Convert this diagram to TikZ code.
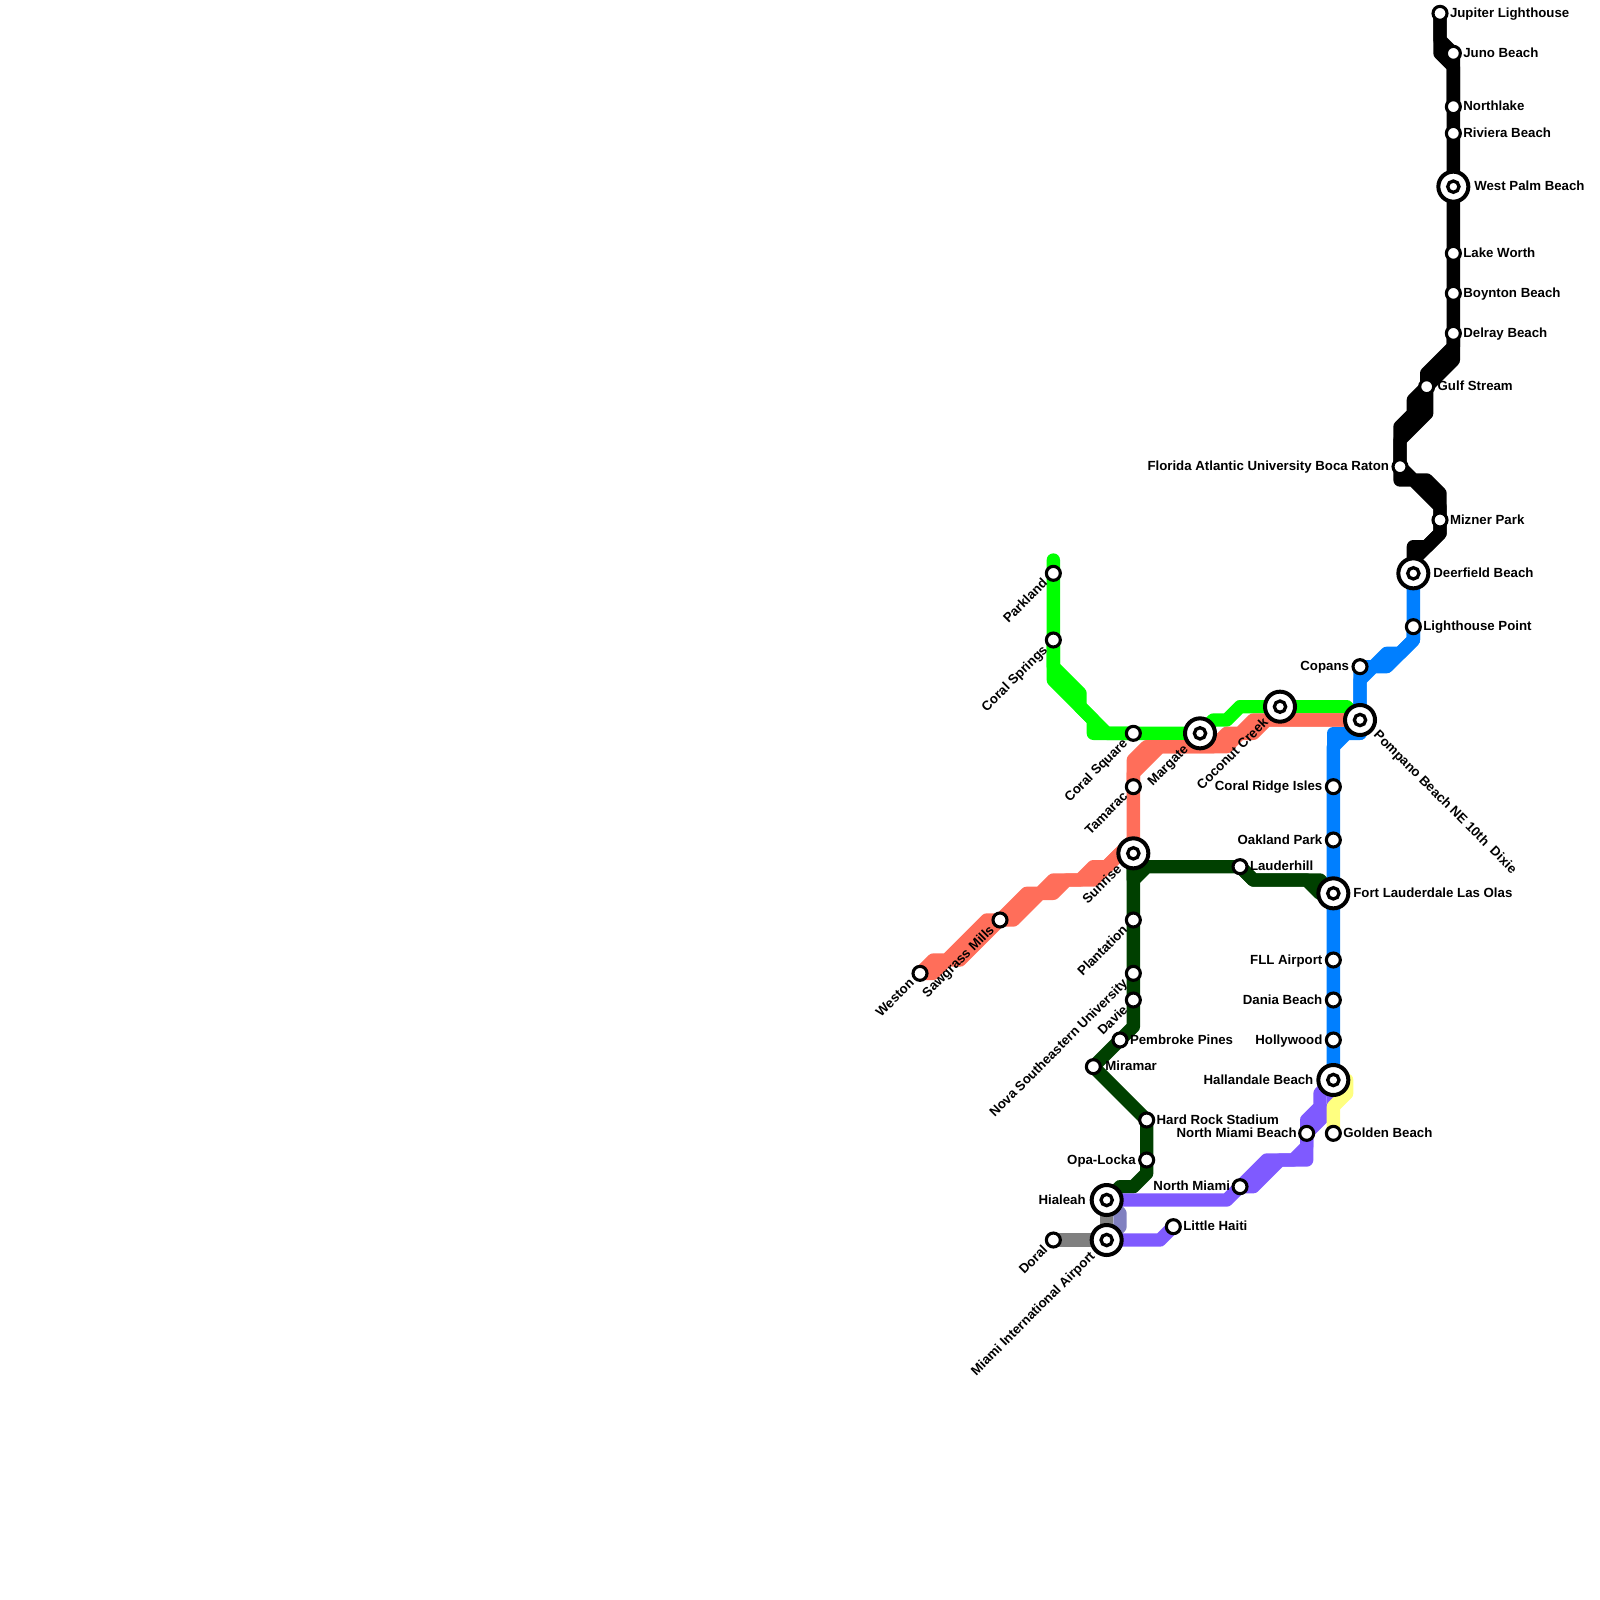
\documentclass[tikz,border=0pt]{standalone}
\usepackage{fontspec}
\setmainfont{Liberation Sans}
\usepackage{xcolor}
\usetikzlibrary{backgrounds}
\definecolor{limeline}{HTML}{00FF00}
\definecolor{salmonline}{HTML}{FF6E5A}
\definecolor{darkline}{HTML}{004000}
\definecolor{blueline}{HTML}{007FFF}
\definecolor{purpleline}{HTML}{7F5AFF}
\definecolor{yellowline}{HTML}{FFFF80}
\definecolor{grayline}{HTML}{808080}
\definecolor{slateline}{HTML}{8080C0}

\begin{document}
\begin{tikzpicture}[
        x=13.333pt, y=-13.333pt,
        stn/.style={circle, draw=black, fill=white, line width=3.1pt, minimum size=14pt, inner sep=0pt},
        hub/.style={circle, draw=black, fill=white, line width=4pt, minimum size=30pt, inner sep=0pt,
            path picture={\draw[line width=3.3pt, fill=white] (path picture bounding box.center) circle (5.65pt);}},
        tag/.style={font=\fontsize{13.25}{15}\selectfont\bfseries, inner sep=0pt, outer sep=0pt},
        tagr/.style={tag, anchor=mid west, xshift=#1, yshift=-1.5pt},
        tagr/.default=10pt,
        tagl/.style={tag, anchor=mid east, xshift=-#1, yshift=-1.5pt},
        tagl/.default=11pt,
        tagsw/.style={tag, anchor=mid east, xshift=-#1+1pt, yshift=-#1-1pt, rotate=45},
        tagsw/.default=8pt,
        tagse/.style={tag, anchor=mid west, xshift=#1+1pt, yshift=-#1, rotate=-45},
        metro/.style={line width=13.333pt, line cap=round, line join=round}
    ]
    \useasboundingbox (0,0) rectangle (120,120);

    % Nodes
    \node[stn] (jupiter) at (108,1) {};
    \node[stn] (juno) at (109,4) {};
    \node[stn] (northlake) at (109,8) {};
    \node[stn] (riviera) at (109,10) {};
    \node[hub] (westpalm) at (109,14) {};
    \node[stn] (lakeworth) at (109,19) {};
    \node[stn] (boynton) at (109,22) {};
    \node[stn] (delray) at (109,25) {};
    \node[stn] (gulf) at (107,29) {};
    \node[stn] (fau) at (105,35) {};
    \node[stn] (mizner) at (108,39) {};
    \node[hub] (deerfield) at (106,43) {};
    \node[stn] (lighthouse) at (106,47) {};
    \node[stn] (copans) at (102,50) {};
    \node[hub] (pompano) at (102,54) {};
    \node[stn] (coralridge) at (100,59) {};
    \node[stn] (oakland) at (100,63) {};
    \node[hub] (fortl) at (100,67) {};
    \node[stn] (fll) at (100,72) {};
    \node[stn] (dania) at (100,75) {};
    \node[stn] (hollywood) at (100,78) {};
    \node[hub] (hallandale) at (100,81) {};
    \node[stn] (golden) at (100,85) {};
    \node[stn] (nmb) at (98,85) {};
    \node[stn] (nmiami) at (93,89) {};
    \node[stn] (haiti) at (88,92) {};
    \node[hub] (hialeah) at (83,90) {};
    \node[hub] (mia) at (83,93) {};
    \node[stn] (doral) at (79,93) {};
    \node[stn] (opa) at (86,87) {};
    \node[stn] (hardrock) at (86,84) {};
    \node[stn] (miramar) at (82,80) {};
    \node[stn] (pembroke) at (84,78) {};
    \node[stn] (davie) at (85,75) {};
    \node[stn] (nova) at (85,73) {};
    \node[stn] (plantation) at (85,69) {};
    \node[hub] (sunrise) at (85,64) {};
    \node[stn] (lauderhill) at (93,65) {};
    \node[stn] (tamarac) at (85,59) {};
    \node[stn] (coralsq) at (85,55) {};
    \node[hub] (margate) at (90,55) {};
    \node[hub] (coconut) at (96,53) {};
    \node[stn] (parkland) at (79,43) {};
    \node[stn] (coralspr) at (79,48) {};
    \node[stn] (sawgrass) at (75,69) {};
    \node[stn] (weston) at (69,73) {};
    \coordinate (parklandend) at (79,42);

    % Labels
    \node[tagr] (jupitertag) at (jupiter) {Jupiter Lighthouse};
    \node[tagr] (junotag) at (juno) {Juno Beach};
    \node[tagr] (northlaketag) at (northlake) {Northlake};
    \node[tagr] (rivieratag) at (riviera) {Riviera Beach};
    \node[tagr=21pt] (westpalmtag) at (westpalm) {West Palm Beach};
    \node[tagr] (lakeworthtag) at (lakeworth) {Lake Worth};
    \node[tagr] (boyntontag) at (boynton) {Boynton Beach};
    \node[tagr] (delraytag) at (delray) {Delray Beach};
    \node[tagr=11pt] (gulftag) at (gulf) {Gulf Stream};
    \node[tagl] (fautag) at (fau) {Florida Atlantic University Boca Raton};
    \node[tagr] (miznertag) at (mizner) {Mizner Park};
    \node[tagr=20pt] (deerfieldtag) at (deerfield) {Deerfield Beach};
    \node[tagr] (lighthousetag) at (lighthouse) {Lighthouse Point};
    \node[tagl] (copanstag) at (copans) {Copans};
    \node[tagse=14pt] (pompanotag) at (pompano) {Pompano Beach NE 10th\ \ Dixie};
    \node[tagl] (coralridgetag) at (coralridge) {Coral Ridge Isles};
    \node[tagl] (oaklandtag) at (oakland) {Oakland Park};
    \node[tagr=20pt] (fortltag) at (fortl) {Fort Lauderdale Las Olas};
    \node[tagl] (flltag) at (fll) {FLL Airport};
    \node[tagl] (daniatag) at (dania) {Dania Beach};
    \node[tagl] (hollywoodtag) at (hollywood) {Hollywood};
    \node[tagl=20pt] (hallandaletag) at (hallandale) {Hallandale Beach};
    \node[tagr] (goldentag) at (golden) {Golden Beach};
    \node[tagl=10pt] (nmbtag) at (nmb) {North Miami Beach};
    \node[tagl=10pt] (nmiamitag) at (nmiami) {North Miami};
    \node[tagr] (haititag) at (haiti) {Little Haiti};
    \node[tagl=21pt] (hialeahtag) at (hialeah) {Hialeah};
    \node[tagsw=14pt] (miatag) at (mia) {Miami International Airport};
    \node[tagsw] (doraltag) at (doral) {Doral};
    \node[tagl] (opatag) at (opa) {Opa-Locka};
    \node[tagr] (hardrocktag) at (hardrock) {Hard Rock Stadium};
    \node[tagr=12pt] (miramartag) at (miramar) {Miramar};
    \node[tagr] (pembroketag) at (pembroke) {Pembroke Pines};
    \node[tagsw] (davietag) at (davie) {Davie};
    \node[tagsw] (novatag) at (nova) {Nova Southeastern University};
    \node[tagsw] (plantationtag) at (plantation) {Plantation};
    \node[tagsw=14pt] (sunrisetag) at (sunrise) {Sunrise};
    \node[tagr] (lauderhilltag) at (lauderhill) {Lauderhill};
    \node[tagsw] (tamaractag) at (tamarac) {Tamarac};
    \node[tagsw] (coralsqtag) at (coralsq) {Coral Square};
    \node[tagsw=14pt] (margatetag) at (margate) {Margate};
    \node[tagsw=14pt] (coconuttag) at (coconut) {Coconut Creek};
    \node[tagsw] (parklandtag) at (parkland) {Parkland};
    \node[tagsw] (coralsprtag) at (coralspr) {Coral Springs};
    \node[tagsw] (sawgrasstag) at (sawgrass) {Sawgrass Mills};
    \node[tagsw] (westontag) at (weston) {Weston};

    % Links
    \begin{scope}[on background layer]
    \draw[metro, limeline] (parklandend) -- (parkland.center) -- (coralspr.center) -- (79,50) -- (81,52) -- (81,53) -- (83,55) -- (coralsq.center);
    \draw[metro, limeline] (coralspr.center) -- (79,51) -- (82,54) -- (82,55) -- (coralsq.center) -- (margate.center) -- (91,54) -- (92,54) -- (93,53) -- (coconut.center) -- (101,53) -- (pompano.center);

    \draw[metro, salmonline] (weston.center) -- (70,72) -- (71,72) -- (74,69) -- (sawgrass.center) -- (77,67) -- (78,67) -- (79,66) -- (81,66) -- (82,65) -- (83,65) -- (85,63) -- (sunrise.center);
    \draw[metro, salmonline] (weston.center) -- (70,73) -- (71,72) -- (72,72) -- (sawgrass.center) -- (76,69) -- (78,67) -- (79,67) -- (80,66) -- (82,66) -- (84,64) -- (sunrise.center);
    \draw[metro, salmonline] (sunrise.center) -- (tamarac.center) -- (85,58) -- (87,56) -- (92,56) -- (93,55) -- (94,55) -- (95,54) -- (pompano.center);
    \draw[metro, salmonline] (tamarac.center) -- (85,57) -- (86,56) -- (91,56) -- (92,55) -- (93,55) -- (94,54) -- (pompano.center);

    \draw[metro, darkline] (sunrise.center) -- (plantation.center) -- (nova.center) -- (davie.center) -- (85,77) -- (pembroke.center) -- (miramar.center) -- (hardrock.center) -- (opa.center) -- (86,88) -- (85,89) -- (84,89) -- (hialeah.center);
    \draw[metro, darkline] (sunrise.center) -- (85,66) -- (86,65) -- (lauderhill.center) -- (94,66) -- (98,66) -- (99,67) -- (fortl.center);
    \draw[metro, darkline] (lauderhill.center) -- (94,66) -- (99,66) -- (fortl.center);

    \draw[metro, blueline] (deerfield.center) -- (lighthouse.center) -- (106,48) -- (105,49) -- (104,49) -- (103,50) -- (copans.center) -- (pompano.center);
    \draw[metro, blueline] (lighthouse.center) -- (106,48) -- (104,50) -- (103,50) -- (102,51) -- (pompano.center);
    \draw[metro, blueline] (pompano.center) -- (102,55) -- (101,55) -- (100,56) -- (coralridge.center) -- (oakland.center) -- (fortl.center) -- (fll.center) -- (dania.center) -- (hollywood.center) -- (hallandale.center);
    \draw[metro, blueline] (pompano.center) -- (102,55) -- (100,55) -- (coralridge.center);

    \draw[metro, purpleline] (hallandale.center) -- (99,82) -- (99,83) -- (98,84) -- (nmb.center) -- (98,86) -- (97,87) -- (95,87) -- (nmiami.center) -- (92,90) -- (hialeah.center);
    \draw[metro, purpleline] (hallandale.center) -- (100,83) -- (nmb.center) -- (98,87) -- (96,87) -- (94,89) -- (nmiami.center);
    \draw[metro, purpleline] (mia.center) -- (87,93) -- (haiti.center);

    \draw[metro, yellowline] (hallandale.center) -- (101,81) -- (101,82) -- (100,83) -- (golden.center);

    \draw[metro, grayline] (doral.center) -- (mia.center) -- (hialeah.center);
    \draw[metro, slateline] (hialeah.center) -- (84,91) -- (84,92) -- (mia.center);

    \draw[metro, black] (jupiter.center) -- (108,3) -- (juno.center) -- (northlake.center) -- (riviera.center) -- (westpalm.center) -- (lakeworth.center) -- (boynton.center) -- (delray.center) -- (109,26) -- (107,28) -- (gulf.center) -- (106,30) -- (106,31) -- (105,32) -- (fau.center);
    \draw[metro, black] (jupiter.center) -- (108,4) -- (109,5) -- (northlake.center);
    \draw[metro, black] (delray.center) -- (109,27) -- (gulf.center) -- (107,31) -- (105,33) -- (fau.center);
    \draw[metro, black] (fau.center) -- (106,36) -- (107,36) -- (108,37) -- (mizner.center);
    \draw[metro, black] (fau.center) -- (105,36) -- (106,36) -- (108,38) -- (mizner.center);
    \draw[metro, black] (mizner.center) -- (108,40) -- (106,42) -- (deerfield.center);
    \draw[metro, black] (mizner.center) -- (108,40) -- (107,41) -- (106,41) -- (deerfield.center);
    \end{scope}

\end{tikzpicture}
\end{document}
